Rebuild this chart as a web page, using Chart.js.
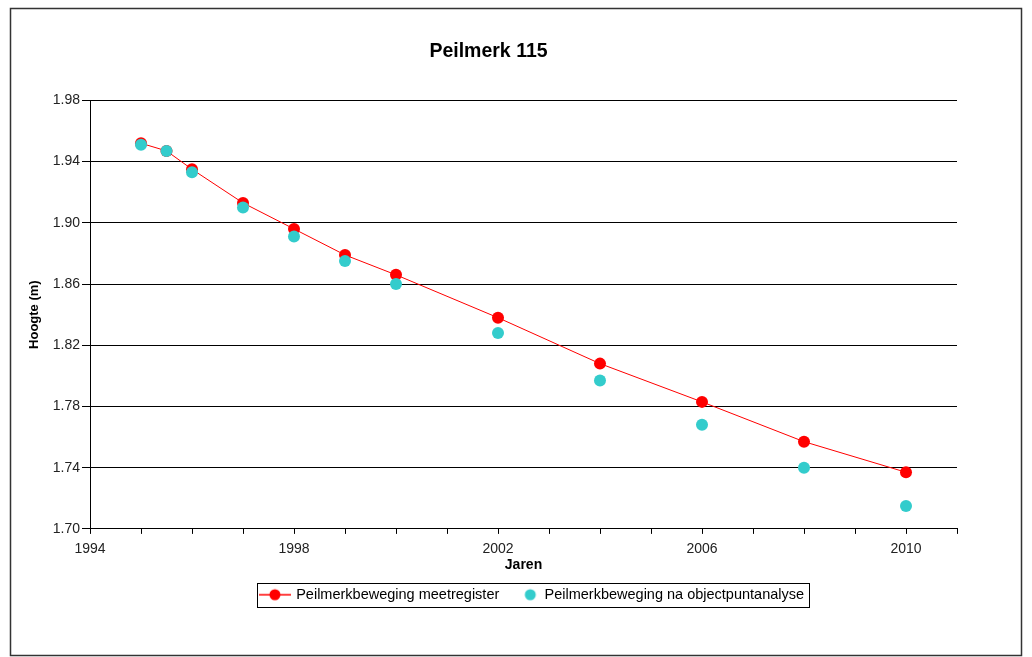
<!DOCTYPE html>
<html lang="en">
<head>
    <meta charset="UTF-8">
    <title>Peilmerk 115</title>
    <script src="https://cdn.jsdelivr.net/npm/chart.js"></script>
    <style>
        html, body {
            margin: 0;
            padding: 0;
            background: #fff;
        }

        .chart-container {
            width: 1032px;
            height: 657px;
        }
    </style>
</head>
<body>
    <div class="chart-container">
        <canvas id="myChart" width="1032" height="657"></canvas>
    </div>

    <script>
        // Chart data
        const years = [1995, 1995.5, 1996, 1997, 1998, 1999, 2000, 2002, 2004, 2006, 2008, 2010];
        const meetregister = [1.952, 1.947, 1.935, 1.913, 1.896, 1.879, 1.866, 1.838, 1.808, 1.783, 1.757, 1.737];
        const objectpunt = [1.951, 1.947, 1.933, 1.910, 1.891, 1.875, 1.860, 1.828, 1.797, 1.768, 1.740, 1.715];
        const yTicks = [1.70, 1.74, 1.78, 1.82, 1.86, 1.90, 1.94, 1.98];
        const xLabelYears = [1994, 1998, 2002, 2006, 2010];

        const RED = '#ff0000';
        const CYAN = '#33cccc';
        const FONT = "'Liberation Sans', Arial, sans-serif";

        Chart.defaults.font.family = FONT;
        Chart.defaults.color = '#222';

        // small images used as legend markers
        function legendMarker(color, withLine) {
            const c = document.createElement('canvas');
            c.width = 32;
            c.height = 14;
            const g = c.getContext('2d');
            g.fillStyle = color;
            if (withLine) {
                g.strokeStyle = color;
                g.lineWidth = 1.5;
                g.beginPath();
                g.moveTo(0, 7);
                g.lineTo(32, 7);
                g.stroke();
                g.beginPath();
                g.arc(16, 7, 5.5, 0, Math.PI * 2);
                g.fill();
            } else {
                g.beginPath();
                g.arc(23, 7, 5.5, 0, Math.PI * 2);
                g.fill();
            }
            return c;
        }
        const markers = [legendMarker(RED, true), legendMarker(CYAN, false)];

        // outer frame, legend border and legend shift
        const framePlugin = {
            id: 'frame',
            beforeDraw(chart) {
                const ctx = chart.ctx;
                ctx.save();
                ctx.fillStyle = '#fff';
                ctx.fillRect(0, 0, chart.width, chart.height);
                ctx.strokeStyle = '#333';
                ctx.lineWidth = 1.5;
                ctx.strokeRect(10.5, 8.5, 1011, 647);
                ctx.restore();
            },
            afterLayout(chart) {
                const dx = 44;
                chart.legend.left += dx;
                chart.legend.right += dx;
            },
            afterDraw(chart) {
                const boxes = chart.legend.legendHitBoxes;
                if (!boxes || !boxes.length) return;
                const first = boxes[0];
                const last = boxes[boxes.length - 1];
                const ctx = chart.ctx;
                ctx.save();
                ctx.strokeStyle = '#000';
                ctx.lineWidth = 1;
                const l = Math.round(first.left - 4) + 0.5;
                const r = Math.round(last.left + last.width + 5) + 0.5;
                const t = Math.round(first.top - 5) + 0.5;
                const b = Math.round(first.top + first.height + 5) + 0.5;
                ctx.strokeRect(l, t, r - l, b - t);
                ctx.restore();
            }
        };

        const ctx = document.getElementById('myChart');
        const myChart = new Chart(ctx, {
            type: 'line',
            data: {
                datasets: [{
                    label: 'Peilmerkbeweging meetregister',
                    data: years.map((x, i) => ({ x: x, y: meetregister[i] })),
                    borderColor: RED,
                    backgroundColor: RED,
                    borderWidth: 1,
                    pointRadius: 6,
                    pointBorderWidth: 0,
                    pointHoverRadius: 6,
                    tension: 0,
                    order: 1
                }, {
                    label: 'Peilmerkbeweging na objectpuntanalyse',
                    data: years.map((x, i) => ({ x: x, y: objectpunt[i] })),
                    borderColor: CYAN,
                    backgroundColor: CYAN,
                    showLine: false,
                    pointRadius: 6,
                    pointBorderWidth: 0,
                    pointHoverRadius: 6,
                    order: 0
                }]
            },
            options: {
                responsive: false,
                animation: false,
                layout: {
                    padding: { left: 20, right: 75, top: 0, bottom: 45 }
                },
                scales: {
                    x: {
                        type: 'linear',
                        min: 1994,
                        max: 2011,
                        ticks: {
                            stepSize: 1,
                            autoSkip: false,
                            maxRotation: 0,
                            padding: 11,
                            color: '#222',
                            font: { size: 14, lineHeight: 0.6 },
                            callback: (v) => xLabelYears.includes(v) ? String(v) : ''
                        },
                        grid: {
                            drawOnChartArea: false,
                            drawTicks: true,
                            tickLength: 5,
                            color: '#000'
                        },
                        border: { display: true, color: '#000', width: 1 },
                        title: {
                            display: true,
                            text: 'Jaren',
                            color: '#000',
                            font: { size: 14, weight: 'bold', lineHeight: 1 },
                            // negative top padding pulls the title up towards the tick labels
                            padding: { top: -6.4, bottom: 5.6 }
                        }
                    },
                    y: {
                        min: yTicks[0],
                        max: yTicks[yTicks.length - 1],
                        afterFit: (scale) => { scale.width = 70; },
                        afterBuildTicks: (scale) => {
                            scale.ticks = yTicks.map((v) => ({ value: v }));
                        },
                        ticks: {
                            padding: 2,
                            color: '#222',
                            font: { size: 14 },
                            callback: (v) => Number(v).toFixed(2)
                        },
                        grid: {
                            color: '#000',
                            lineWidth: 1,
                            tickLength: 8
                        },
                        border: { display: true, color: '#000', width: 1 },
                        title: {
                            display: true,
                            text: 'Hoogte (m)',
                            color: '#000',
                            font: { size: 13, weight: 'bold' },
                            padding: { top: 7, bottom: 0 }
                        }
                    }
                },
                plugins: {
                    title: {
                        display: true,
                        text: 'Peilmerk 115',
                        color: '#000',
                        font: { size: 19.5, weight: 'bold' },
                        padding: { top: 40, bottom: 37 }
                    },
                    legend: {
                        position: 'bottom',
                        labels: {
                            usePointStyle: true,
                            pointStyleWidth: 28,
                            boxHeight: 14,
                            padding: 10,
                            color: '#000',
                            font: { size: 14.5 },
                            sort: (a, b) => a.datasetIndex - b.datasetIndex,
                            generateLabels: (chart) => {
                                const items = Chart.defaults.plugins.legend.labels.generateLabels(chart);
                                items.forEach((item) => {
                                    item.pointStyle = markers[item.datasetIndex];
                                });
                                return items;
                            }
                        }
                    },
                    tooltip: { enabled: false }
                }
            },
            plugins: [framePlugin]
        });
    </script>
</body>
</html>
